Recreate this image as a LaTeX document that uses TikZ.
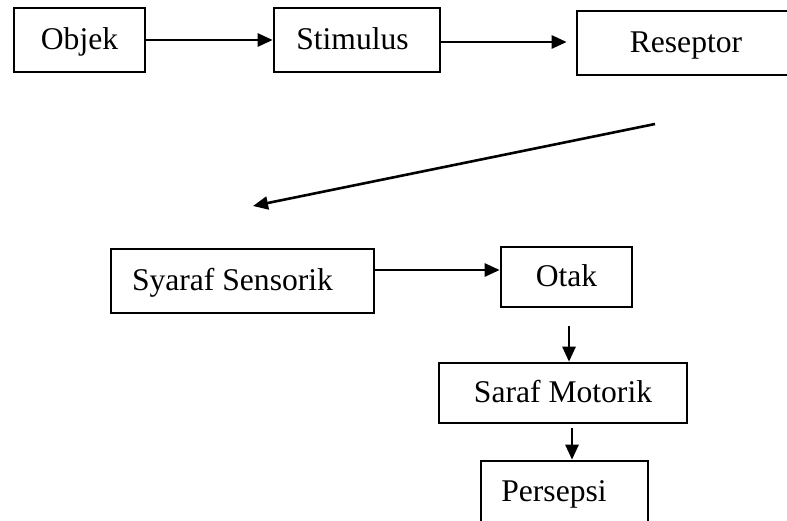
\documentclass[tikz,border=0pt]{standalone}
\usepackage{fontspec}
\setmainfont{Liberation Serif}
\usetikzlibrary{arrows.meta}
\begin{document}
\begin{tikzpicture}[x=1pt,y=-1pt,
  box/.style={draw=black,line width=2.6pt,inner sep=0pt,
    font=\fontsize{31.6}{36}\selectfont,text height=25pt,text depth=7pt},
  conn/.style={line width=2.6pt,-{Triangle[length=15pt,width=13pt]}}]
\useasboundingbox (0,0) rectangle (787,520);
\clip (0,0) rectangle (787,520);
\fill[white] (0,0) rectangle (787,520);
\node[box,minimum width=131,minimum height=64] (objek) at (79.5,40) {Objek};
\node[box,minimum width=166,minimum height=64] (stim) at (357,40) {Stimulus\hspace*{9pt}};
\node[box,minimum width=218,minimum height=64] (resep) at (686,43) {Reseptor};
\coordinate (d1) at (655,124);
\coordinate (d2) at (253,206);
\node[box,minimum width=263,minimum height=64] (sens) at (242.5,281) {Syaraf Sensorik\hspace*{20pt}};
\node[box,minimum width=131,minimum height=60] (otak) at (566.5,277) {Otak};
\coordinate (o1) at (569,326);
\node[box,minimum width=248,minimum height=60] (motor) at (563,393) {Saraf Motorik};
\coordinate (m1) at (572,428);
\node[box,minimum width=167,minimum height=62] (pers) at (564.5,492) {Persepsi\hspace*{21pt}};
\draw[conn] (objek.east) -- (stim.west);
\draw[conn,shorten >=9pt] ([yshift=-2pt]stim.east) coordinate (s0) -- (s0 -| resep.west);
\draw[conn] (d1) -- (d2);
\draw[conn] ([yshift=11pt]sens.east) coordinate (s1) -- (s1 -| otak.west);
\draw[conn] (o1) -- (o1 |- motor.north);
\draw[conn] (m1) -- (m1 |- pers.north);
\end{tikzpicture}
\end{document}
